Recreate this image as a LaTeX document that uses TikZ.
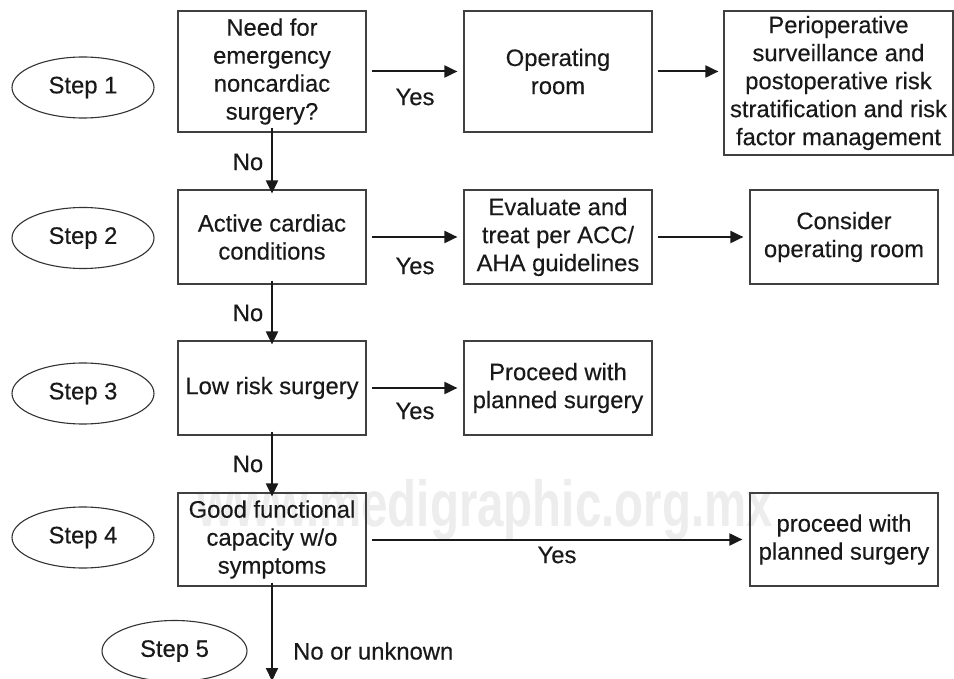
\documentclass[tikz,border=0pt]{standalone}
\usepackage{fontspec}
\setmainfont{Liberation Sans}
\newfontfamily\txtfont{Liberation Sans}[FakeBold=0.3]
\usetikzlibrary{arrows.meta,shapes.geometric}
\newcommand{\myfs}{\txtfont\fontsize{23.8}{28}\selectfont}
\begin{document}
\begin{tikzpicture}[x=1pt,y=-1pt,
  box/.style={draw=black!75, line width=1.2pt, minimum width=188pt, inner sep=0pt, align=center, font=\myfs, text=black!90},
  stepnode/.style={draw=black!80, line width=1.1pt, ellipse, minimum width=142pt, minimum height=61pt, inner sep=0pt, font=\myfs, text=black!90},
  lbl/.style={font=\myfs, inner sep=0pt, text=black!90},
  arr/.style={line width=2pt, black!90, -{Triangle[length=13pt,width=12pt]}},
  wm/.style={font=\bfseries\fontsize{65}{70}\selectfont, text=black!7, inner sep=0pt, xscale=0.73}
]
\useasboundingbox (0,0) rectangle (954,679);
\fill[white] (0,0) rectangle (954,679);
% watermark
\node[wm] (wmark) at (485,510) {www.medigraphic.org.mx};
% steps
\node[stepnode] (s1) at (83,87.5) {Step 1};
\node[stepnode] (s2) at (83,238) {Step 2};
\node[stepnode] (s3) at (83,393.5) {Step 3};
\node[stepnode] (s4) at (83,537.5) {Step 4};
\node[stepnode, minimum width=145pt] (s5) at (174.5,651) {Step 5};
% row 1
\node[box, minimum height=121pt] (q1) at (272,71.5) {Need for\\emergency\\noncardiac\\surgery?};
\node[box, minimum height=121pt] (or) at (558,71.5) {Operating\\room};
\node[box, minimum width=229pt, minimum height=144pt] (peri) at (838.5,83) {Perioperative\\surveillance and\\postoperative risk\\stratification and risk\\factor management};
% row 2
\node[box, minimum height=94pt] (q2) at (272,237) {Active cardiac\\conditions};
\node[box, minimum height=94pt] (ev) at (558,237) {Evaluate and\\treat per ACC/\\AHA guidelines};
\node[box, minimum height=94pt] (co) at (844,237) {Consider\\operating room};
% row 3
\node[box, minimum height=94pt] (q3) at (272,388) {Low risk surgery};
\node[box, minimum height=94pt] (p1) at (558,388) {Proceed with\\planned surgery};
% row 4
\node[box, minimum height=93pt] (q4) at (272,539.5) {Good functional\\capacity w/o\\symptoms};
\node[box, minimum height=93pt] (p2) at (844,539.5) {proceed with\\planned surgery};
\coordinate (endpt) at (272,681);
% horizontal arrows
\draw[arr] ([xshift=5pt]q1.east) -- ([xshift=-6pt]or.west);
\draw[arr] ([xshift=5pt]or.east) -- ([xshift=-5pt]or.east -| peri.west);
\draw[arr] ([xshift=5pt]q2.east) -- ([xshift=-6pt]ev.west);
\draw[arr] ([xshift=5pt]ev.east) -- ([xshift=-6pt]co.west);
\draw[arr] ([xshift=5pt]q3.east) -- ([xshift=-6pt]p1.west);
\draw[arr] ([xshift=5pt]q4.east) -- ([xshift=-7pt]p2.west);
% vertical arrows
\draw[arr] ([yshift=5pt]q1.south) -- ([yshift=-4pt]q2.north);
\draw[arr] ([yshift=4pt]q2.south) -- ([yshift=-4pt]q3.north);
\draw[arr] ([yshift=4pt]q3.south) -- ([yshift=-4pt]q4.north);
\draw[arr] ([yshift=4pt]q4.south) -- (endpt);
% labels
\node[lbl] (y1) at (415,97) {Yes};
\node[lbl] (y2) at (415,266) {Yes};
\node[lbl] (y3) at (415,411) {Yes};
\node[lbl] (y4) at (557,555) {Yes};
\node[lbl] (n1) at (248,162) {No};
\node[lbl] (n2) at (248,313) {No};
\node[lbl] (n3) at (248,464) {No};
\node[lbl, anchor=west] (n4) at (293,651) {No or unknown};
\end{tikzpicture}
\end{document}
